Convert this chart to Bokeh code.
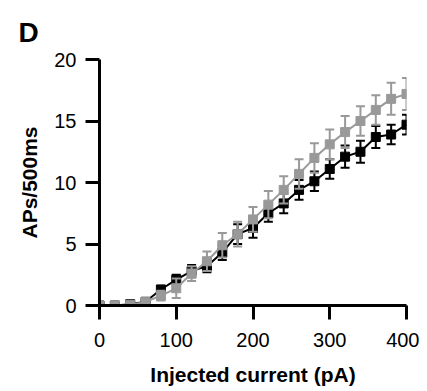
from bokeh.plotting import figure
from bokeh.models import FixedTicker, Range1d
from bokeh.embed import file_html
from bokeh.resources import INLINE

current = [0, 20, 40, 60, 80, 100, 120, 140, 160, 180, 200, 220, 240, 260, 280, 300, 320, 340, 360, 380, 400]
black_mean = [0.0, 0.0, 0.1, 0.3, 1.3, 2.1, 2.8, 3.2, 4.3, 5.8, 6.3, 7.5, 8.3, 9.4, 10.1, 11.1, 12.1, 12.5, 13.7, 13.9, 14.7]
black_err = [0.05, 0.05, 0.1, 0.1, 0.3, 0.4, 0.5, 0.5, 0.6, 0.8, 0.8, 0.7, 0.8, 0.8, 0.8, 0.8, 0.9, 0.9, 0.9, 0.8, 0.8]
gray_mean = [0.0, 0.0, 0.05, 0.3, 0.8, 1.4, 2.6, 3.6, 4.9, 5.8, 7.0, 8.2, 9.4, 10.7, 12.0, 13.1, 14.1, 15.0, 15.9, 16.8, 17.2]
gray_err = [0.05, 0.05, 0.1, 0.2, 0.4, 0.8, 0.6, 0.8, 1.0, 1.0, 1.0, 1.1, 1.1, 1.2, 1.2, 1.2, 1.3, 1.2, 1.2, 1.3, 1.3]
x_ticks = [0, 100, 200, 300, 400]
y_ticks = [0, 5, 10, 15, 20]
panel_letter = "D"

FONT = "Liberation Sans"

p = figure(width=419, height=391, output_backend="svg", toolbar_location=None,
           x_range=Range1d(0, 400), y_range=Range1d(0, 20),
           title=panel_letter,
           min_border_left=99, min_border_right=13, min_border_top=59, min_border_bottom=86)
p.grid.visible = False
p.outline_line_color = None
p.title.text_font = FONT
p.title.text_font_style = "bold"
p.title.text_font_size = "28px"
p.title.text_color = "black"
p.title.offset = -81
p.title.standoff = 24

p.xaxis.ticker = FixedTicker(ticks=x_ticks)
p.yaxis.ticker = FixedTicker(ticks=y_ticks)
p.xaxis.axis_label = "Injected current (pA)"
p.yaxis.axis_label = "APs/500ms"
for ax in (p.xaxis, p.yaxis):
    ax.axis_line_width = 3
    ax.axis_line_color = "black"
    ax.major_tick_line_width = 3
    ax.major_tick_line_color = "black"
    ax.major_tick_out = 14
    ax.major_tick_in = 0
    ax.minor_tick_out = 0
    ax.minor_tick_in = 0
    ax.major_label_text_font = FONT
    ax.major_label_text_font_size = "20px"
    ax.major_label_text_color = "black"
    ax.axis_label_text_font = FONT
    ax.axis_label_text_font_style = "bold"
    ax.axis_label_text_font_size = "21px"
    ax.axis_label_text_color = "black"
p.xaxis.major_label_standoff = 13
p.xaxis.axis_label_standoff = 13
p.yaxis.major_label_standoff = 9
p.yaxis.axis_label_standoff = 10

def series(mean, err, color, size):
    lo = [m - e for m, e in zip(mean, err)]
    hi = [m + e for m, e in zip(mean, err)]
    p.segment(x0=current, y0=lo, x1=current, y1=hi, line_color=color, line_width=2)
    p.scatter(x=current, y=lo, marker="dash", size=9, line_color=color, line_width=2)
    p.scatter(x=current, y=hi, marker="dash", size=9, line_color=color, line_width=2)
    p.line(x=current, y=mean, line_color=color, line_width=2)
    p.scatter(x=current, y=mean, marker="square", size=size, fill_color=color, line_color=color)

series(black_mean, black_err, "black", 9)
series(gray_mean, gray_err, "#999999", 9)

open("out.html", "w").write(file_html(p, INLINE))
